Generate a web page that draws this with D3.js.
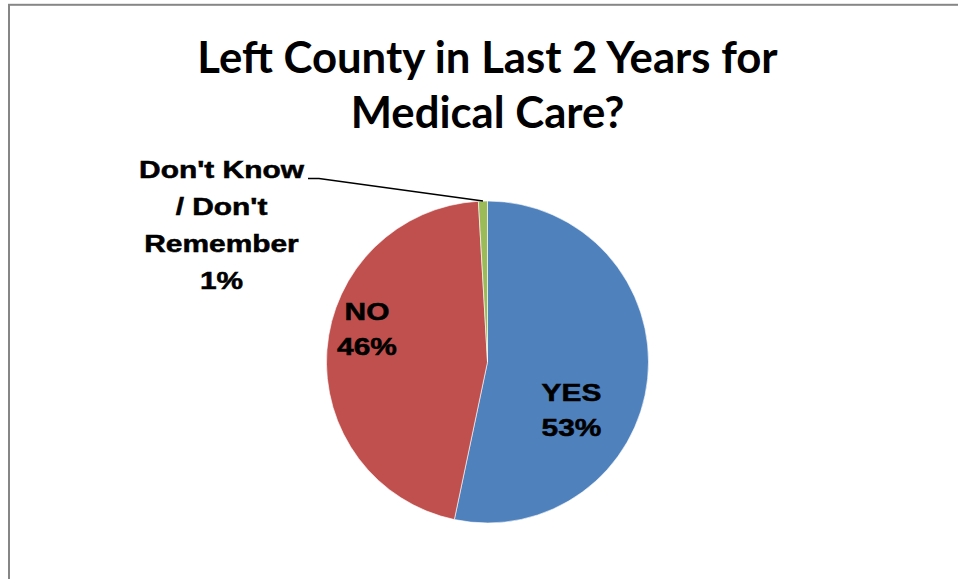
<!DOCTYPE html>
<html><head><meta charset="utf-8">
<script src="https://cdn.jsdelivr.net/npm/d3@7"></script>
<style>html,body{margin:0;padding:0;background:#fff;overflow:hidden}</style>
</head><body>
<svg id="chart" width="958" height="579"></svg>
<script>
const categories = ["YES", "NO", "Don't Know / Don't Remember"];
const values = [53.3, 45.8, 0.9];
const percentLabels = ["53%", "46%", "1%"];
const colors = ["#4F81BD", "#C0504D", "#9BBB59"];
const titleLines = ["Left County in Last 2 Years for", "Medical Care?"];

const svg = d3.select("#chart");

// frame
svg.append("rect").attr("x", 9).attr("y", 4.8).attr("width", 980).attr("height", 620)
  .attr("fill", "#fff").attr("stroke", "#868686").attr("stroke-width", 2);

// title
const titleTargets = [581, 278];
const titleY = [73, 128];
const titleEls = titleLines.map((t, i) => svg.append("text").attr("x", 487.5).attr("y", titleY[i])
    .attr("text-anchor", "middle")
    .style("font-family", "Lato, 'Open Sans', sans-serif")
    .style("font-weight", "700").style("font-size", "43px").attr("fill", "#000").text(t));
{
  const w = titleEls[0].node().getComputedTextLength();
  const fs = 43 * titleTargets[0] / w;
  titleEls.forEach(e => e.style("font-size", fs.toFixed(1) + "px"));
}

const cx = 487.5, cy = 362, r = 161;
const g = svg.append("g").attr("transform", `translate(${cx},${cy})`);
const pie = d3.pie().sort(null).value(d => d)(values);
const arc = d3.arc().innerRadius(0).outerRadius(r);
g.selectAll("path").data(pie).enter().append("path")
  .attr("d", arc).attr("fill", (d, i) => colors[i])
  .attr("stroke", "#fff").attr("stroke-width", 0.6);

const lblFont = "'Liberation Sans', Arial, sans-serif";
const sx = 1.3;
function label(lines, x, y0, lh) {
  const grp = svg.append("g").attr("transform", `translate(${x},0) scale(${sx},1)`);
  const t = grp.append("text").attr("text-anchor", "middle")
    .style("font-family", lblFont).style("font-weight", "700").style("font-size", "23px")
    .attr("fill", "#000").attr("stroke", "#000").attr("stroke-width", 0.5);
  lines.forEach((l, i) => t.append("tspan").attr("x", 0).attr("y", y0 + i * lh).text(l));
}
label([categories[0], percentLabels[0]], 571.5, 401.5, 34.5);
label([categories[1], percentLabels[1]], 367, 320, 35.5);
label(["Don't Know", "/ Don't", "Remember", percentLabels[2]], 221.5, 178, 37);

// leader line to green slice
const gArc = pie[2];
const mid = (gArc.startAngle + gArc.endAngle) / 2;
const px = cx + Math.sin(mid) * r, py = cy - Math.cos(mid) * r;
svg.append("polyline")
  .attr("points", `308,178.5 319,178.5 ${px},${py}`)
  .attr("fill", "none").attr("stroke", "#000").attr("stroke-width", 1.5);
</script>
</body></html>
